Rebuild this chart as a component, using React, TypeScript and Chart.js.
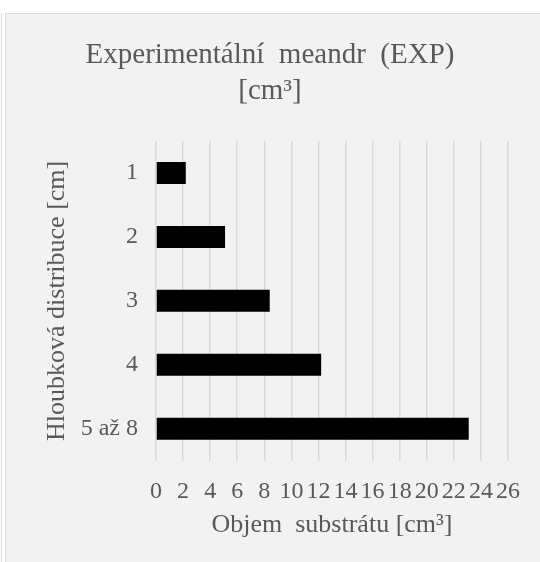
import React, { useEffect, useRef } from "react";
import { Chart, registerables } from "chart.js";

Chart.register(...registerables);

const categories = ["1", "2", "3", "4", "5 až 8"];
const volumes = [2.2, 5.1, 8.4, 12.2, 23.1];
const titleLines = ["Experimentální  meandr  (EXP)", "[cm³]"];
const xTitle = "Objem  substrátu [cm³]";
const yTitle = "Hloubková distribuce [cm]";
const xMin = 0;
const xMax = 26;
const xStep = 2;

const FONT = "'Liberation Serif', 'Times New Roman', serif";
const TEXT = "#595959";

export default function App() {
  const ref = useRef<HTMLCanvasElement | null>(null);

  useEffect(() => {
    document.body.style.margin = "0";
    const canvas = ref.current;
    if (!canvas) return;
    const chart = new Chart(canvas, {
      type: "bar",
      data: {
        labels: categories,
        datasets: [
          {
            data: volumes,
            backgroundColor: "#000000",
            borderWidth: 0,
            categoryPercentage: 1,
            barPercentage: 0.344,
          },
        ],
      },
      options: {
        indexAxis: "y",
        animation: false,
        responsive: false,
        devicePixelRatio: 1,
        layout: { padding: { left: 32, right: 32, top: 0, bottom: 21 } },
        plugins: {
          legend: { display: false },
          tooltip: { enabled: false },
          title: {
            display: true,
            text: titleLines,
            color: TEXT,
            font: { family: FONT, size: 29, weight: "normal", lineHeight: 36 / 29 },
            padding: { top: 37.2, bottom: 31.8 },
          },
        },
        scales: {
          x: {
            type: "linear",
            min: xMin,
            max: xMax,
            ticks: {
              stepSize: xStep,
              autoSkip: false,
              maxRotation: 0,
              minRotation: 0,
              color: TEXT,
              padding: 16.5,
              font: { family: FONT, size: 24 },
            },
            grid: {
              color: "#d9d9d9",
              lineWidth: 1.5,
              drawTicks: false,
            },
            border: { display: false },
            title: {
              display: true,
              text: xTitle,
              color: TEXT,
              font: { family: FONT, size: 26, lineHeight: 1.2 },
              padding: { top: 6, bottom: 0 },
            },
            afterFit: (scale: any) => {
              scale.height = 80.3;
            },
          },
          y: {
            type: "category",
            ticks: {
              color: TEXT,
              padding: 18,
              font: { family: FONT, size: 24 },
            },
            grid: { display: false, drawTicks: false },
            border: { display: false },
            title: {
              display: true,
              text: yTitle,
              color: TEXT,
              font: { family: FONT, size: 26, lineHeight: 1.2 },
              padding: { top: 9.4, bottom: 6 },
            },
            afterFit: (scale: any) => {
              scale.width = 124;
            },
          },
        },
      },
    });
    return () => chart.destroy();
  }, []);

  return (
    <div style={{ position: "relative", width: 540, height: 562, background: "#ffffff", overflow: "hidden" }}>
      <div style={{ position: "absolute", left: 1, top: 13, width: 1, height: 549, background: "#d9d9d9" }} />
      <div
        style={{
          position: "absolute",
          left: 5,
          top: 13,
          right: 0,
          bottom: 0,
          background: "#f2f2f2",
          borderTop: "1px solid #dcdcdc",
          borderLeft: "1px solid #dcdcdc",
        }}
      />
      <canvas ref={ref} width={540} height={562} style={{ position: "absolute", left: 0, top: 0 }} />
    </div>
  );
}
